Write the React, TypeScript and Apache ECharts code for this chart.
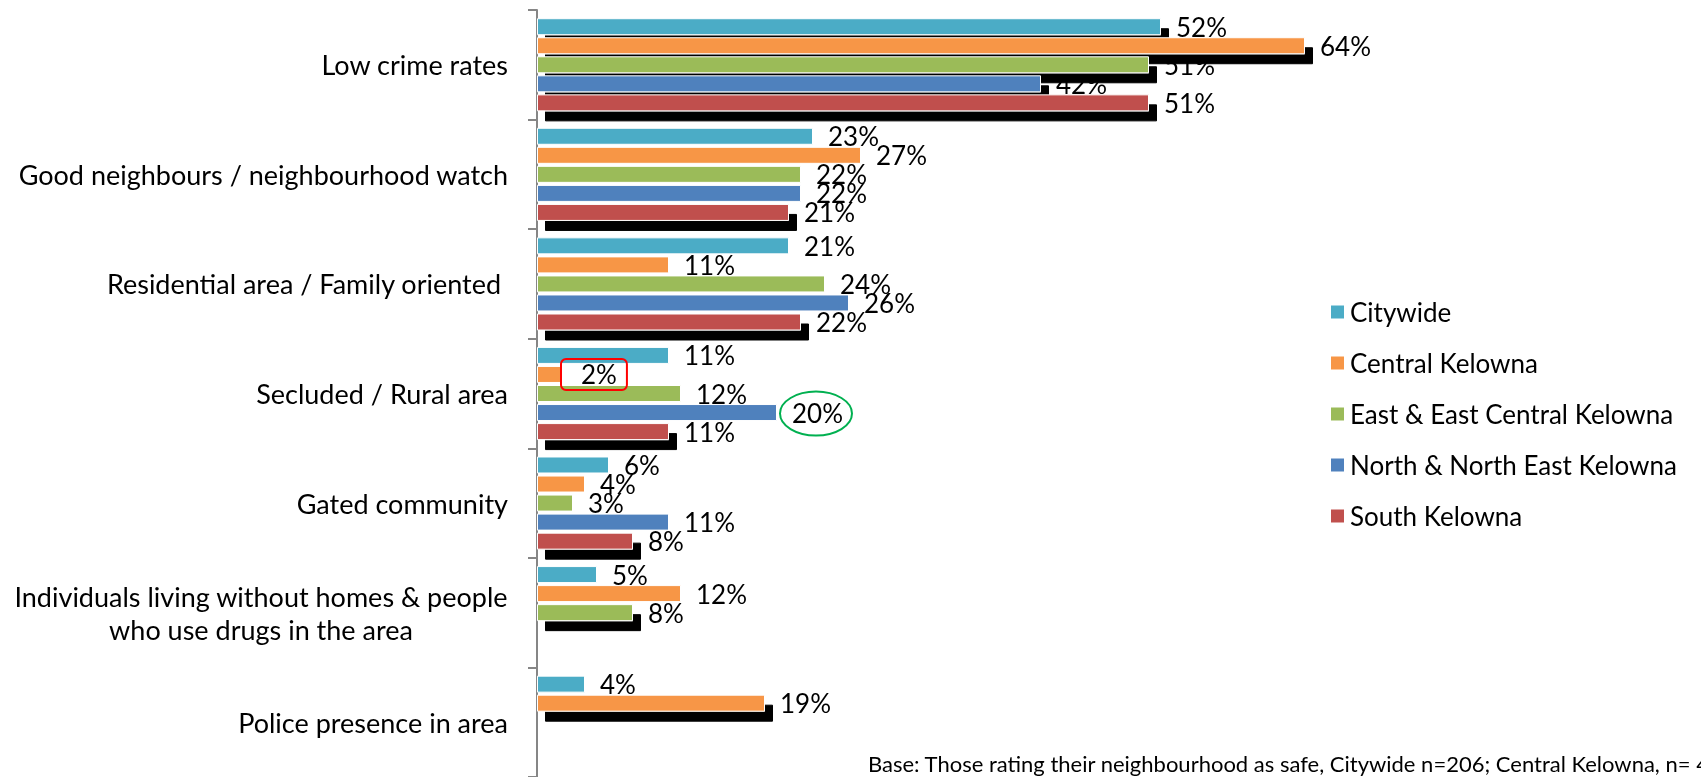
import React, { useEffect, useRef } from 'react';
import * as echarts from 'echarts';

const categories = [
  'Low crime rates',
  'Good neighbours / neighbourhood watch',
  'Residential area / Family oriented\u00a0',
  'Secluded / Rural area',
  'Gated community',
  'Individuals living without homes & people\nwho use drugs in the area',
  'Police presence in area',
];
const seriesNames = [
  'Citywide',
  'Central Kelowna',
  'East & East Central Kelowna',
  'North & North East Kelowna',
  'South Kelowna',
];
const citywide = [52, 23, 21, 11, 6, 5, 4];
const centralKelowna = [64, 27, 11, 2, 4, 12, 19];
const eastKelowna = [51, 22, 24, 12, 3, 8, null];
const northKelowna = [42, 22, 26, 20, 11, null, null];
const southKelowna = [51, 21, 22, 11, 8, null, null];
const allValues = [citywide, centralKelowna, eastKelowna, northKelowna, southKelowna];
const colors = ['#4BACC6', '#F79646', '#9BBB59', '#4F81BD', '#C0504D'];
const boxedPoint = { series: 1, category: 3 };
const circledPoint = { series: 3, category: 3 };
const footnote = 'Base: Those rating their neighbourhood as safe, Citywide n=206; Central Kelowna, n= 4';

const FONT = 'Lato, "Open Sans", sans-serif';
const CAT_SIZE = 27;
const LABEL_SIZE = 26;

export default function App() {
  const ref = useRef<HTMLDivElement>(null);
  useEffect(() => {
    if (!ref.current) return;
    const chart = echarts.init(ref.current, null, { renderer: 'svg' });

    let richWidth = 500;
    try {
      const ctx = document.createElement('canvas').getContext('2d');
      if (ctx) {
        ctx.font = `${CAT_SIZE}px Lato`;
        let w = 0;
        categories.forEach((c) => {
          if (c.includes('\n')) c.split('\n').forEach((l) => { w = Math.max(w, ctx.measureText(l).width); });
        });
        if (w > 0) richWidth = Math.ceil(w);
      }
    } catch (e) {}

    const lastIdx = categories.map((_, ci) => {
      let last = -1;
      allValues.forEach((arr, si) => { if (arr[ci] != null) last = si; });
      return last;
    });

    const series = seriesNames.map((name, si) => ({
      name,
      type: 'bar',
      barWidth: 17,
      barGap: '12%',
      itemStyle: { color: colors[si], borderColor: '#ffffff', borderWidth: 1 },
      label: {
        show: true,
        position: 'right',
        distance: 15,
        formatter: (p: any) => `${p.value}%`,
        color: '#000',
        fontSize: LABEL_SIZE,
        fontFamily: FONT,
      },
      data: allValues[si].map((v, ci) => {
        if (v == null) return null;
        const item: any = { value: v };
        if (ci === 0 || lastIdx[ci] === si) {
          item.itemStyle = {
            shadowColor: '#000000',
            shadowBlur: 1,
            shadowOffsetX: 8,
            shadowOffsetY: 10,
          };
        }
        if (si === boxedPoint.series && ci === boxedPoint.category) {
          item.label = {
            distance: 0,
            borderColor: '#FF0000',
            borderWidth: 2,
            borderRadius: 5,
            padding: [3, 10, 3, 20],
            lineHeight: 25,
          };
        }
        return item;
      }),
    }));

    const footnoteGraphic = {
      type: 'text',
      left: 868,
      top: 752,
      style: { text: footnote, fontSize: 22, fontFamily: FONT, fill: '#000' },
    };

    const option: any = {
      animation: false,
      color: colors,
      grid: { left: 537, top: 10, width: 960, bottom: 0, outerBoundsMode: 'none' },
      xAxis: { type: 'value', min: 0, max: 80, show: false },
      yAxis: {
        type: 'category',
        inverse: true,
        data: categories,
        axisLine: { show: true, lineStyle: { color: '#868686', width: 2 } },
        axisTick: { show: true, length: 9, lineStyle: { color: '#868686', width: 2 } },
        splitLine: { show: false },
        axisLabel: {
          margin: 29,
          color: '#000',
          fontSize: CAT_SIZE,
          fontFamily: FONT,
          lineHeight: 33,
          formatter: (v: string) =>
            v.includes('\n') ? v.split('\n').map((l) => `{c|${l}}`).join('\n') : v,
          rich: {
            c: { width: richWidth, align: 'center', fontSize: CAT_SIZE, fontFamily: FONT, lineHeight: 33, color: '#000' },
          },
        },
      },
      legend: {
        orient: 'vertical',
        left: 1324,
        top: 292,
        itemWidth: 15,
        itemHeight: 15,
        itemGap: 21,
        icon: 'rect',
        data: seriesNames,
        textStyle: { fontSize: 26, lineHeight: 30, fontFamily: FONT, color: '#000' },
      },
      graphic: [footnoteGraphic],
      series,
    };
    chart.setOption(option);

    try {
      const model = (chart as any).getModel();
      const data = model.getSeriesByIndex(circledPoint.series).getData();
      const lay = data.getItemLayout(circledPoint.category);
      if (lay) {
        const endX = lay.x + lay.width;
        const cy = lay.y + lay.height / 2;
        chart.setOption({
          graphic: [
            footnoteGraphic,
            {
              type: 'ellipse',
              shape: { cx: endX + 39, cy: cy + 1, rx: 36, ry: 22 },
              style: { fill: 'none', stroke: '#00B050', lineWidth: 2 },
              z: 100,
            },
          ],
        });
      }
    } catch (e) {}

    return () => chart.dispose();
  }, []);
  return <div ref={ref} style={{ position: 'fixed', left: 0, top: 0, width: 1701, height: 777 }} />;
}
